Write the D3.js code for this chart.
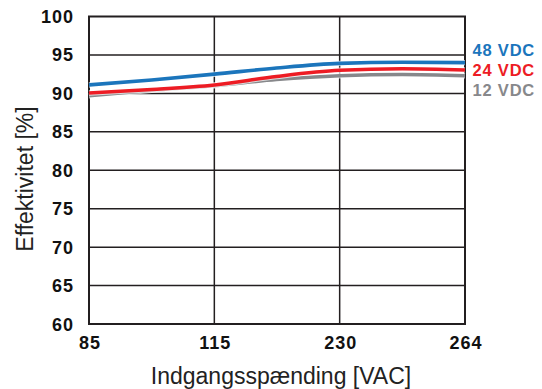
<!DOCTYPE html>
<html>
<head>
<meta charset="utf-8">
<script src="https://cdn.jsdelivr.net/npm/d3@7"></script>
<style>
  html, body { margin: 0; padding: 0; background: #fff; }
  svg { display: block; }
  text { font-family: "Liberation Sans", Arial, sans-serif; }
</style>
</head>
<body>
<svg id="chart" width="542" height="389"></svg>
<script>
// Efficiency vs. input voltage for three output voltages
const voltages = [85, 100, 115, 172, 230, 247, 264];
const eff48 = [91.1, 91.75, 92.5, 93.3, 93.9, 94.05, 94.0];
const eff24 = [90.05, 90.5, 91.1, 92.2, 93.0, 93.2, 93.05];
const eff12 = [89.7, 90.4, 91.0, 91.8, 92.3, 92.45, 92.3];

const xTicks = [85, 115, 230, 264];
const yTicks = [60, 65, 70, 75, 80, 85, 90, 95, 100];

const seriesNames = ["48 VDC", "24 VDC", "12 VDC"];
const seriesColors = ["#1b75bc", "#ed1c24", "#87888b"];
const seriesValues = [eff48, eff24, eff12];

const xTitle = "Indgangsspænding [VAC]";
const yTitle = "Effektivitet [%]";

const margin = { left: 89, top: 16.5, right: 77, bottom: 65 };
const W = 542, H = 389;
const w = W - margin.left - margin.right;
const h = H - margin.top - margin.bottom;

const svg = d3.select("#chart");
const g = svg.append("g").attr("transform", `translate(${margin.left},${margin.top})`);

// Ticks are evenly spaced, so the voltage axis is piecewise linear
const x = d3.scaleLinear()
  .domain(xTicks)
  .range(xTicks.map((d, i) => i * w / (xTicks.length - 1)));
const y = d3.scaleLinear().domain([60, 100]).range([h, 0]);

const ink = "#231f20";

// Grid
g.append("g").selectAll("line").data(yTicks.filter(v => v > 60 && v < 100)).join("line")
  .attr("x1", 0).attr("x2", w)
  .attr("y1", d => y(d)).attr("y2", d => y(d))
  .attr("stroke", ink).attr("stroke-width", 1.5);
g.append("g").selectAll("line").data(xTicks.slice(1, -1)).join("line")
  .attr("x1", d => x(d)).attr("x2", d => x(d))
  .attr("y1", 0).attr("y2", h)
  .attr("stroke", ink).attr("stroke-width", 1.5);

// Frame
g.append("rect").attr("x", 0).attr("y", 0).attr("width", w).attr("height", h)
  .attr("fill", "none").attr("stroke", ink).attr("stroke-width", 2);

// Curves (12 VDC underneath, 48 VDC on top)
const line = d3.line()
  .x((d, i) => x(voltages[i]))
  .y(d => y(d))
  .curve(d3.curveMonotoneX);

const order = [2, 1, 0];
order.forEach(k => {
  g.append("path").datum(seriesValues[k])
    .attr("d", line).attr("fill", "none")
    .attr("stroke", "#fff").attr("stroke-opacity", 0.7).attr("stroke-width", 5.5);
  g.append("path").datum(seriesValues[k])
    .attr("d", line).attr("fill", "none")
    .attr("stroke", seriesColors[k]).attr("stroke-width", 3.6)
    .attr("stroke-linecap", "butt");
});

// Y tick labels
g.append("g").selectAll("text").data(yTicks).join("text")
  .attr("x", -15).attr("y", d => y(d) + 6.5)
  .attr("text-anchor", "end")
  .attr("font-size", 18).attr("font-weight", "bold")
  .attr("letter-spacing", 1).attr("fill", "#111")
  .text(d => d);

// X tick labels
g.append("g").selectAll("text").data(xTicks).join("text")
  .attr("x", d => x(d) + 1).attr("y", h + 24.5)
  .attr("text-anchor", "middle")
  .attr("font-size", 18).attr("font-weight", "bold")
  .attr("letter-spacing", 1).attr("fill", "#111")
  .text(d => d);

// Series labels at the right end
svg.append("g").selectAll("text").data(seriesNames).join("text")
  .attr("x", margin.left + w + 7.5)
  .attr("y", (d, i) => 55.5 + i * 20)
  .attr("font-size", 16.5).attr("font-weight", "bold")
  .attr("letter-spacing", 0.8)
  .attr("fill", (d, i) => seriesColors[i])
  .text(d => d);

// Axis titles
svg.append("text")
  .attr("x", margin.left + w / 2 + 4).attr("y", 384)
  .attr("text-anchor", "middle")
  .attr("font-size", 23).attr("fill", "#222")
  .text(xTitle);

svg.append("text")
  .attr("transform", `translate(32.5,179) rotate(-90)`)
  .attr("text-anchor", "middle")
  .attr("font-size", 23).attr("fill", "#222")
  .text(yTitle);
</script>
</body>
</html>
